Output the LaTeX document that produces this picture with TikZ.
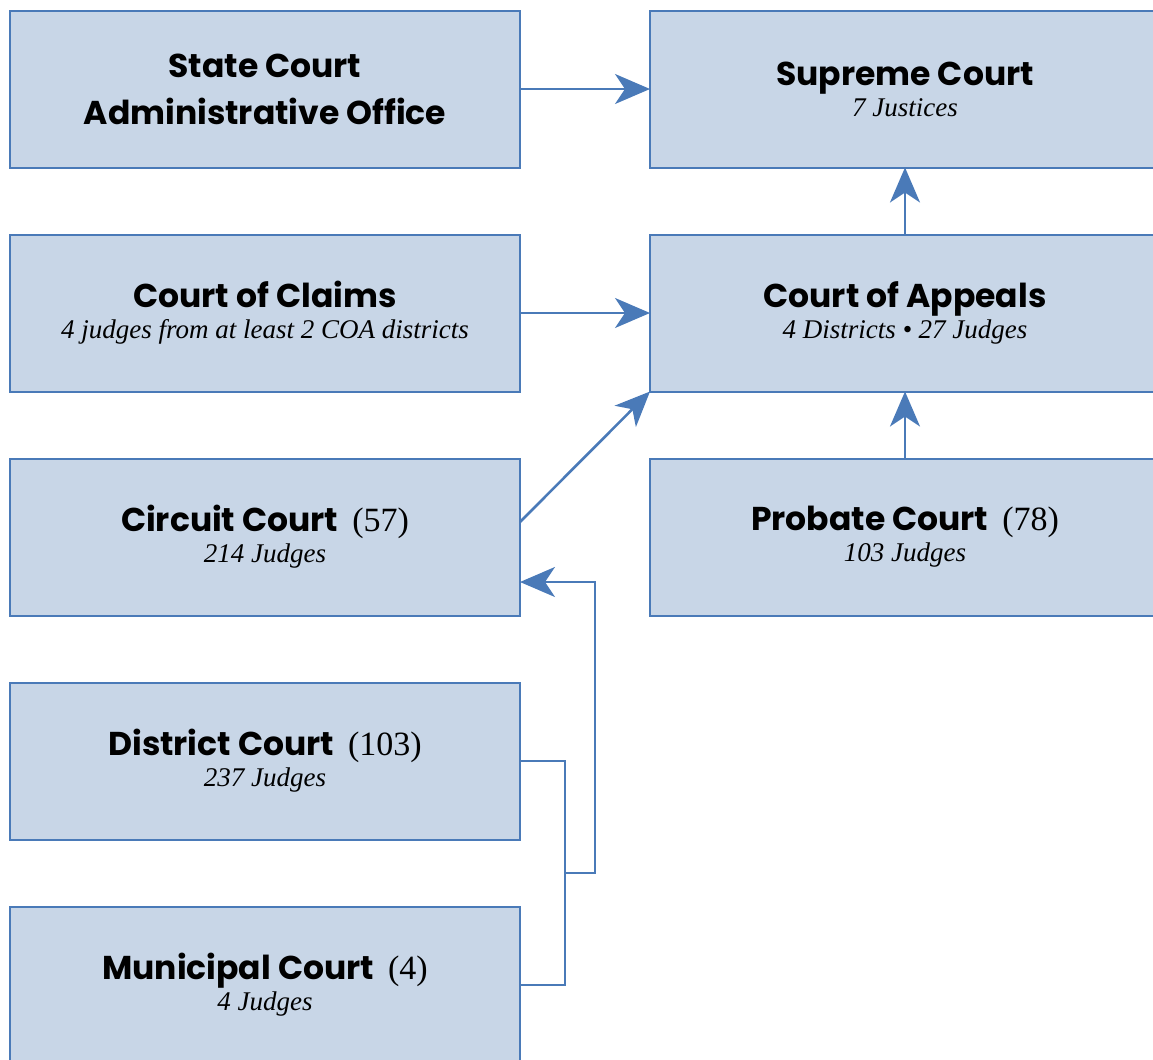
\documentclass[tikz,border=0pt]{standalone}
\usepackage{fontspec}
\setmainfont{Liberation Serif}
\newfontfamily\headfont{Poppins}
\usetikzlibrary{positioning,arrows.meta}
\definecolor{courtfill}{HTML}{C8D6E7}
\definecolor{courtline}{HTML}{4A7AB8}
\newcommand{\courtname}[1]{{\headfont\bfseries\fontsize{16.5}{15}\selectfont #1}}
\newcommand{\courtsize}[1]{\hspace{7pt}{\fontsize{17}{15}\selectfont #1}}
\newcommand{\courtinfo}[1]{{\itshape #1}}

\begin{document}
\begin{tikzpicture}[x=0.5pt,y=-0.5pt,
courtnode/.style={rectangle, draw=courtline, fill=courtfill, line width=1pt, minimum width=255pt, minimum height=78.5pt, align=center, inner sep=0pt, outer sep=0pt, font=\fontsize{13.5}{15}\selectfont},
link/.style={draw=courtline, line width=1.3pt, -{Stealth[length=17.5pt,width=15pt,inset=5pt]}},
node distance=33.5pt and 65pt,
]
\clip (0,0) rectangle (1153,1060);
%Nodes
\node[courtnode]      (sco)     at (265,89)          {\courtname{State Court}\\[8.5pt] \courtname{Administrative Office}};
\node[courtnode]      (supreme)   [right=of sco]     {\courtname{Supreme Court}\\[0.5pt] \courtinfo{7 Justices}};
\node[courtnode]      (claims)    [below=of sco]     {\courtname{Court of Claims}\\[0.5pt] \courtinfo{4 judges from at least 2 COA districts}};
\node[courtnode]      (appeals)   [right=of claims]  {\courtname{Court of Appeals}\\[0.5pt] \courtinfo{4 Districts \textbullet\ 27 Judges}};
\node[courtnode]      (circuit)   [below=of claims]  {\courtname{Circuit Court}\courtsize{(57)}\\[0.5pt] \courtinfo{214 Judges}};
\node[courtnode]      (probate)   [right=of circuit] {\courtname{Probate Court}\courtsize{(78)}\\[0.5pt] \courtinfo{103 Judges}};
\node[courtnode]      (district)  [below=of circuit] {\courtname{District Court}\courtsize{(103)}\\[0.5pt] \courtinfo{237 Judges}};
\node[courtnode]      (municipal) [below=of district]{\courtname{Municipal Court}\courtsize{(4)}\\[0.5pt] \courtinfo{4 Judges}};
\coordinate (merge) at (565,873);
\coordinate (circin) at ([yshift=-22.5pt]circuit.east);

%Lines
\draw[link] (sco.east) -- (supreme.west);
\draw[link] (claims.east) -- (appeals.west);
\draw[link] (appeals.north) -- (supreme.south);
\draw[link] (probate.north) -- (appeals.south);
\draw[link] ([yshift=7.5pt]circuit.east) -- (appeals.south west);
\draw[draw=courtline, line width=1.3pt] (district.east) -| (merge);
\draw[draw=courtline, line width=1.3pt] (municipal.east) -| (merge);
\draw[link] (merge) -- ++(30,0) |- (circin);
\end{tikzpicture}
\end{document}
